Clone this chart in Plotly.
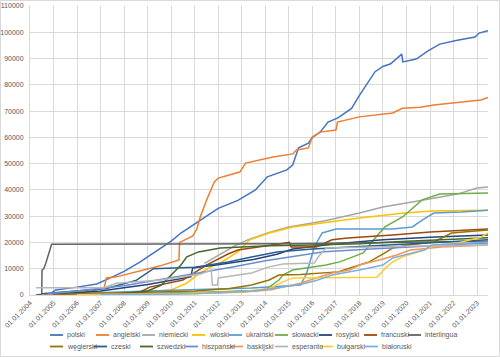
import plotly.graph_objects as go

# ---------------- data ----------------
polski_x = ["2004-12", "2005-02", "2006-01", "2006-11", "2007-06", "2008-01", "2008-09", "2009-06", "2010-01",
            "2010-06", "2010-12", "2011-06", "2012-01", "2012-11", "2013-08", "2014-02", "2014-12", "2015-03",
            "2015-06", "2015-11", "2016-01", "2016-05", "2016-09", "2017-02", "2017-09", "2018-01", "2018-05",
            "2018-09", "2019-01", "2019-05", "2019-10-20", "2019-11-05", "2020-06", "2020-12", "2021-06",
            "2022-03", "2022-12", "2023-02", "2023-06-20"]
polski_y = [800, 1900, 3000, 4200, 6500, 9000, 12500, 17000, 20500, 23600, 26500, 29700, 33000, 36000, 40000,
            45000, 47600, 49500, 56000, 57800, 60000, 62000, 65800, 67400, 71000, 76000, 80700, 85000, 87000,
            88000, 91700, 88700, 89800, 92900, 95500, 97000, 98200, 99700, 100600]

angielski_x = ["2004-08", "2005-07", "2006-07", "2007-03", "2007-04", "2007-09", "2008-07", "2009-07", "2010-05-01",
               "2010-05-10", "2010-08", "2010-12", "2011-02", "2011-04", "2011-07", "2011-11", "2012-01", "2012-12",
               "2013-03", "2014-05", "2015-03", "2015-05", "2015-11", "2016-01", "2016-05", "2017-01-01",
               "2017-01-25", "2018-01", "2019-06", "2019-11", "2020-08", "2021-03", "2023-03", "2023-06-20"]
angielski_y = [200, 700, 1100, 3000, 6500, 6900, 8800, 11000, 13300, 20000, 21000, 22500, 25000, 30000, 36000,
               43000, 44500, 46800, 50200, 52500, 53700, 55200, 56000, 60100, 62000, 62800, 65800, 67800, 69300,
               71100, 71500, 72300, 74200, 75200]

niemiecki_x = ["2011-06", "2011-10", "2012-03", "2012-09", "2013-04", "2014-03", "2015-01", "2016-07", "2018-01",
               "2019-01", "2020-04", "2021-03", "2022-03", "2023-01", "2023-06-20"]
niemiecki_y = [12000, 13800, 16000, 18500, 21000, 23800, 25900, 28200, 31200, 33500, 35400, 36900, 38400, 40700,
               41100]

wloski_x = ["2005-01", "2007-01", "2008-07", "2010-01", "2010-09", "2011-03", "2011-10", "2012-02", "2012-06",
            "2012-11", "2013-05", "2014-03", "2015-03", "2016-08", "2018-01", "2019-12", "2021-02", "2023-06-20"]
wloski_y = [0, 400, 900, 1900, 4500, 8000, 11000, 12200, 14100, 16400, 21000, 23600, 25900, 27600, 29300, 31200,
            32000, 32300]

ukrainski_x = ["2004-12", "2007-01", "2010-01", "2013-06", "2015-07", "2015-10", "2016-02", "2016-06", "2017-01",
               "2019-06", "2020-04", "2020-09", "2021-03", "2022-05", "2023-06-20"]
ukrainski_y = [300, 1000, 1800, 2700, 3800, 8000, 18300, 23600, 25100, 25100, 25900, 28500, 31200, 31600, 32300]

slowacki_x = ["2007-07", "2010-01", "2012-01", "2013-11", "2014-03", "2014-08", "2014-10", "2015-03", "2015-11",
              "2016-08", "2017-03", "2017-08", "2018-03", "2018-09", "2019-02", "2019-11", "2020-09", "2021-06",
              "2022-05", "2023-06-20"]
slowacki_y = [200, 600, 1200, 1800, 3000, 5700, 7600, 9500, 10300, 11400, 12600, 14000, 16000, 21700, 25900,
              29700, 36200, 38400, 38500, 38800]

rosyjski_x = ["2005-01", "2007-01", "2009-01", "2010-11", "2010-12", "2012-01", "2013-07", "2014-07", "2015-03",
              "2017-01", "2019-01", "2021-01", "2023-06-20"]
rosyjski_y = [300, 1500, 4000, 6900, 10300, 11500, 13500, 15500, 17500, 19500, 21000, 22000, 22800]

francuski_x = ["2008-07", "2009-02", "2010-07", "2011-07", "2012-06", "2012-11", "2013-06", "2014-07", "2015-01-10",
               "2015-02-05", "2016-03", "2016-11", "2017-07", "2019-06", "2021-01", "2023-06-20"]
francuski_y = [300, 3000, 5700, 11400, 15600, 17100, 17900, 19400, 20000, 18300, 18300, 21000, 21700, 22800,
               24000, 25100]

interlingua_x = ["2004-04-01", "2004-07-01", "2004-07-06", "2004-08-01", "2004-09-01", "2004-10-01", "2004-11-01",
                 "2004-12-01", "2015-01", "2019-01", "2023-06-20"]
interlingua_y = [0, 300, 9500, 10000, 12000, 14300, 16500, 19300, 19500, 20000, 20500]

wegierski_x = ["2005-01", "2008-01", "2011-01", "2012-07", "2013-06", "2014-03", "2014-08", "2015-07", "2016-07",
               "2017-02", "2018-01", "2018-06", "2019-02", "2019-06", "2020-02", "2021-03", "2021-12", "2023-06-20"]
wegierski_y = [200, 800, 1500, 2500, 3800, 5700, 7600, 7800, 8400, 8800, 11400, 12600, 16000, 17900, 19000,
               20200, 23600, 24700]

czeski_x = ["2004-07", "2006-01", "2007-04", "2008-07", "2009-04", "2011-01", "2012-06", "2013-06", "2014-07",
            "2016-01", "2018-01", "2020-01", "2022-01", "2023-06-20"]
czeski_y = [500, 1500, 2500, 5500, 10000, 10600, 12600, 14500, 16400, 17500, 18500, 19500, 20500, 21000]

szwedzki_x = ["2007-07", "2009-01", "2009-08", "2010-06", "2010-09", "2011-03", "2012-02", "2014-03", "2016-01",
              "2018-01", "2020-01", "2022-01", "2023-06-20"]
szwedzki_y = [200, 1500, 3800, 11400, 14500, 16400, 17900, 18700, 19000, 19500, 20500, 21300, 21800]

hiszpanski_x = ["2004-10", "2006-01", "2008-01", "2010-01", "2011-07", "2012-07", "2014-01", "2015-07", "2016-07",
                "2018-07", "2020-07", "2023-06-20"]
hiszpanski_y = [500, 1500, 3500, 6500, 9000, 10500, 13000, 15000, 16500, 17500, 18500, 19800]

baskijski_x = ["2006-01", "2010-01", "2013-01", "2014-04", "2014-10", "2015-07", "2016-03", "2016-11", "2017-08",
               "2018-01", "2019-01", "2019-08", "2020-03", "2021-07", "2023-06-20"]
baskijski_y = [100, 400, 1000, 2000, 3000, 4500, 6500, 8400, 9500, 11400, 13700, 15200, 17100, 18300, 19000]

esperanto_x = ["2004-04", "2007-03", "2007-09", "2009-08", "2011-04", "2011-09-15", "2011-10-01", "2011-12-20",
               "2012-01-01", "2013-06", "2014-03", "2014-10", "2016-02", "2016-04", "2016-08", "2018-03", "2020-01",
               "2023-06-20"]
esperanto_y = [2800, 2800, 4500, 5700, 8000, 9500, 3800, 3800, 6500, 8400, 10700, 11800, 12200, 14500, 17900,
               18300, 18600, 19000]

bulgarski_x = ["2006-01", "2010-01", "2013-01", "2014-03", "2014-10", "2015-03", "2018-10", "2019-03", "2019-06",
               "2019-11", "2020-10", "2021-03", "2022-03", "2023-03", "2023-06-20"]
bulgarski_y = [100, 500, 1200, 2500, 5000, 6500, 6800, 10700, 12600, 14500, 17100, 19000, 19800, 22000, 23600]

bialoruski_x = ["2007-01", "2011-01", "2013-07", "2014-10", "2015-07", "2016-03", "2016-11", "2018-01", "2019-01",
                "2019-06", "2020-04", "2020-10", "2021-02", "2022-07", "2023-06-20"]
bialoruski_y = [100, 500, 1500, 3000, 4000, 5500, 7600, 9500, 11400, 14100, 16000, 17100, 19000, 19600, 20200]

series_names = ["polski", "angielski", "niemiecki", "włoski", "ukraiński", "słowacki", "rosyjski", "francuski",
                "interlingua", "węgierski", "czeski", "szwedzki", "hiszpański", "baskijski", "esperanto",
                "bułgarski", "białoruski"]
series_x = [polski_x, angielski_x, niemiecki_x, wloski_x, ukrainski_x, slowacki_x, rosyjski_x, francuski_x,
            interlingua_x, wegierski_x, czeski_x, szwedzki_x, hiszpanski_x, baskijski_x, esperanto_x,
            bulgarski_x, bialoruski_x]
series_y = [polski_y, angielski_y, niemiecki_y, wloski_y, ukrainski_y, slowacki_y, rosyjski_y, francuski_y,
            interlingua_y, wegierski_y, czeski_y, szwedzki_y, hiszpanski_y, baskijski_y, esperanto_y,
            bulgarski_y, bialoruski_y]

# ---------------- style ----------------
colors = ["#4472C4", "#ED7D31", "#A5A5A5", "#FFC000", "#5B9BD5", "#70AD47", "#264478", "#9E480E", "#636363",
          "#997300", "#255E91", "#43682B", "#698ED0", "#F1975A", "#B7B7B7", "#FFCD33", "#7CAFDD"]

W, H = 500, 357
ML, MR, MT, MB = 30, 12, 6, 62
PW, PH = W - ML - MR, H - MT - MB
FONT = "Liberation Sans"
TXT = "#595959"
GRID = "#D9D9D9"


def px_x(px):
    return (px - ML) / PW


def px_y(py):
    return (H - MB - py) / PH


fig = go.Figure()
for name, col, xs, ys in zip(series_names, colors, series_x, series_y):
    fig.add_trace(go.Scatter(x=xs, y=ys, mode="lines", name=name,
                             line=dict(color=col, width=1.5), showlegend=False,
                             hoverinfo="skip"))

# legend drawn as a flowing two-row Excel-style legend
legend_rows = [(335, [50, 96, 142, 192, 229, 275, 319, 364, 408]),
               (346.5, [50, 94, 140, 185, 230, 275, 320, 365])]
shapes = []
annotations = []
i = 0
for ry, starts in legend_rows:
    for sx in starts:
        shapes.append(dict(type="line", xref="paper", yref="paper",
                           x0=px_x(sx), x1=px_x(sx + 13), y0=px_y(ry), y1=px_y(ry),
                           line=dict(color=colors[i], width=1.8)))
        annotations.append(dict(xref="paper", yref="paper", x=px_x(sx + 15), y=px_y(ry),
                                xanchor="left", yanchor="middle", showarrow=False,
                                text=series_names[i], font=dict(family=FONT, size=7, color=TXT)))
        i += 1

# chart-area border
shapes.append(dict(type="rect", xref="paper", yref="paper",
                   x0=px_x(0.5), x1=px_x(W - 0.5), y0=px_y(H - 0.5), y1=px_y(0.5),
                   line=dict(color=GRID, width=1), layer="below"))

fig.update_layout(
    width=W, height=H,
    margin=dict(l=ML, r=MR, t=MT, b=MB),
    paper_bgcolor="white", plot_bgcolor="white",
    font=dict(family=FONT, size=7, color=TXT),
    showlegend=False,
    shapes=shapes, annotations=annotations,
    xaxis=dict(type="date", range=["2004-01-01", "2023-06-20"], tick0="2004-01-01", dtick="M12",
               tickformat="%d.%m.%Y", tickangle=-45, showgrid=True, gridcolor=GRID, gridwidth=1,
               showline=True, linecolor=GRID, linewidth=1, ticks="", zeroline=False, automargin=False,
               tickfont=dict(family=FONT, size=7, color=TXT)),
    yaxis=dict(range=[0, 110000], dtick=10000, tick0=0, tickformat="d", showgrid=True, gridcolor=GRID,
               gridwidth=1, showline=True, linecolor=GRID, linewidth=1, ticks="", zeroline=False,
               automargin=False, ticklabelstandoff=4, tickfont=dict(family=FONT, size=7, color=TXT)),
)

fig.write_html("out.html", config={"displayModeBar": False, "staticPlot": True},
               post_script="document.body.style.margin='0';document.body.style.overflow='hidden';")
